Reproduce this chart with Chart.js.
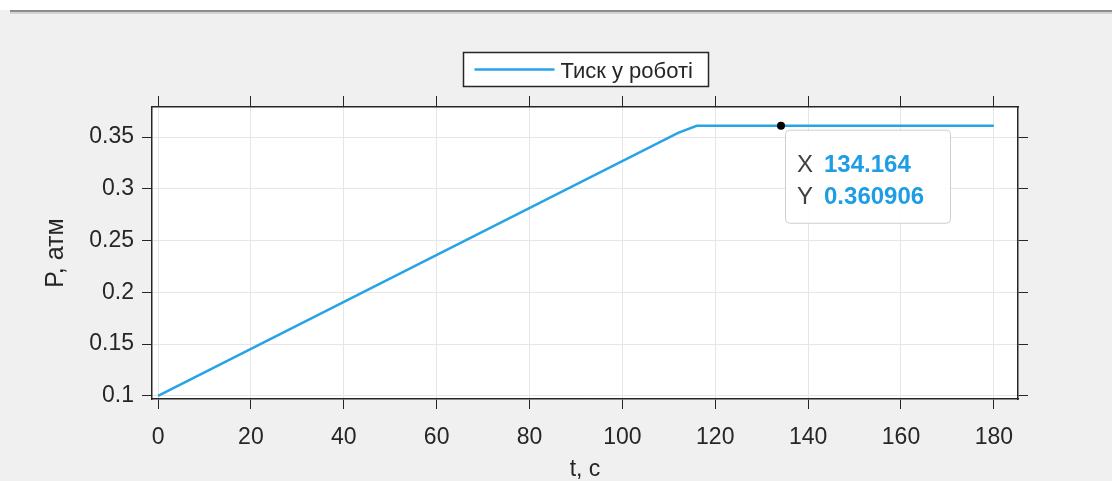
<!DOCTYPE html>
<html>
<head>
<meta charset="utf-8">
<script src="https://cdn.jsdelivr.net/npm/chart.js@4"></script>
<style>
  body { margin: 0; background: #f0f0f0; }
  #wrap { width: 1112px; height: 481px; position: relative; }
</style>
</head>
<body>
<div id="wrap"><canvas id="myChart"></canvas></div>
<script>
// pressure curve (time in s, pressure in atm)
const tValues = [0, 112, 116, 134.164, 180];
const pValues = [0.1, 0.354, 0.3609, 0.360906, 0.3609];

const xTicks = [0, 20, 40, 60, 80, 100, 120, 140, 160, 180];
const yTicks = [0.1, 0.15, 0.2, 0.25, 0.3, 0.35];

const seriesLabel = 'Тиск у роботі';
const xTitle = 't, c';
const yTitle = 'P, атм';

// data tip
const tipX = 134.164;
const tipY = 0.360906;

const LINE_COLOR = '#27a3e6';
const AXIS_COLOR = '#262626';
const GRID_COLOR = '#e6e6e6';
const FONT = "'Liberation Sans', Arial, sans-serif";

const points = tValues.map((t, i) => ({ x: t, y: pValues[i] }));

function setTicks(list) {
  return function(scale) {
    scale.ticks = list.map(v => ({ value: v }));
  };
}

// grey figure background, white axes area, top shadow line
const backdrop = {
  id: 'backdrop',
  beforeDraw(chart) {
    const ctx = chart.ctx;
    const a = chart.chartArea;
    ctx.save();
    ctx.fillStyle = '#f0f0f0';
    ctx.fillRect(0, 0, chart.width, chart.height);
    ctx.fillStyle = '#ffffff';
    ctx.fillRect(0, 0, chart.width, 10);
    ctx.fillStyle = '#8c8c8c';
    ctx.fillRect(10, 10, chart.width - 10, 2);
    ctx.fillStyle = '#d4d4d4';
    ctx.fillRect(10, 12, chart.width - 10, 2);
    ctx.fillStyle = '#ffffff';
    ctx.fillRect(a.left, a.top, a.right - a.left, a.bottom - a.top);
    ctx.restore();
  }
};

// boxed legend above the axes
const boxLegend = {
  id: 'boxLegend',
  afterDraw(chart) {
    const ctx = chart.ctx;
    const a = chart.chartArea;
    const cx = (a.left + a.right) / 2;
    const w = 245, h = 34;
    const x0 = Math.round(cx - w / 2) + 0.5, y0 = a.top - 55 + 0.5;
    ctx.save();
    ctx.fillStyle = '#ffffff';
    ctx.fillRect(x0, y0, w, h);
    ctx.strokeStyle = AXIS_COLOR;
    ctx.lineWidth = 1.5;
    ctx.strokeRect(x0, y0, w, h);
    ctx.strokeStyle = LINE_COLOR;
    ctx.lineWidth = 2.5;
    ctx.beginPath();
    ctx.moveTo(x0 + 11, y0 + 17);
    ctx.lineTo(x0 + 91, y0 + 17);
    ctx.stroke();
    ctx.fillStyle = AXIS_COLOR;
    ctx.font = '22px ' + FONT;
    ctx.textBaseline = 'alphabetic';
    ctx.fillText(seriesLabel, x0 + 97, y0 + 25);
    ctx.restore();
  }
};

// data tip marker and label
const dataTip = {
  id: 'dataTip',
  afterDatasetsDraw(chart) {
    const ctx = chart.ctx;
    const px = chart.scales.x.getPixelForValue(tipX);
    const py = chart.scales.y.getPixelForValue(tipY);
    ctx.save();
    const bx = px + 4, by = py + 4, bw = 165, bh = 93;
    ctx.fillStyle = 'rgba(255,255,255,0.92)';
    ctx.strokeStyle = '#cfcfcf';
    ctx.lineWidth = 1;
    ctx.beginPath();
    ctx.roundRect(bx + 0.5, by + 0.5, bw, bh, 4);
    ctx.fill();
    ctx.stroke();
    ctx.fillStyle = '#000000';
    ctx.beginPath();
    ctx.arc(px, py, 4, 0, Math.PI * 2);
    ctx.fill();
    ctx.textBaseline = 'alphabetic';
    ctx.font = '24px ' + FONT;
    ctx.fillStyle = '#404040';
    ctx.fillText('X', bx + 12, by + 42);
    ctx.fillText('Y', bx + 12, by + 74);
    ctx.font = 'bold 24px ' + FONT;
    ctx.fillStyle = '#1f9de4';
    ctx.fillText(String(tipX), bx + 39, by + 42);
    ctx.fillText(String(tipY), bx + 39, by + 74);
    ctx.restore();
  }
};

const tickFont = { family: FONT, size: 23 };

const config = {
  type: 'line',
  data: {
    datasets: [{
      label: seriesLabel,
      data: points,
      borderColor: LINE_COLOR,
      borderWidth: 2.5,
      pointRadius: 0,
      tension: 0,
      fill: false
    }]
  },
  options: {
    responsive: true,
    maintainAspectRatio: false,
    animation: false,
    layout: { padding: { left: 42, right: 0, top: 0, bottom: 0 } },
    plugins: {
      legend: { display: false },
      tooltip: { enabled: false }
    },
    scales: {
      x: {
        type: 'linear',
        position: 'bottom',
        min: -1.3,
        max: 185.2,
        afterBuildTicks: setTicks(xTicks),
        afterFit(scale) { scale.height = 82; },
        grid: { color: GRID_COLOR, tickColor: AXIS_COLOR, tickLength: 10, lineWidth: 1 },
        border: { color: AXIS_COLOR, width: 1.5 },
        ticks: { font: tickFont, color: AXIS_COLOR, padding: 15, maxRotation: 0 },
        title: { display: true, text: xTitle, color: AXIS_COLOR,
                 font: { family: FONT, size: 23, lineHeight: 1 }, padding: 0 }
      },
      x2: {
        type: 'linear',
        position: 'top',
        min: -1.3,
        max: 185.2,
        afterBuildTicks: setTicks(xTicks),
        afterFit(scale) { scale.height = 107; },
        grid: { drawOnChartArea: false, tickColor: AXIS_COLOR, tickLength: 11 },
        border: { color: AXIS_COLOR, width: 1.5 },
        ticks: { display: false }
      },
      y: {
        type: 'linear',
        position: 'left',
        min: 0.097,
        max: 0.379,
        afterBuildTicks: setTicks(yTicks),
        afterFit(scale) { scale.width = 110; },
        grid: { color: GRID_COLOR, tickColor: AXIS_COLOR, tickLength: 10, lineWidth: 1 },
        border: { color: AXIS_COLOR, width: 1.5 },
        ticks: { font: tickFont, color: AXIS_COLOR, padding: 8,
                 callback: v => String(+v.toFixed(2)) },
        title: { display: true, text: yTitle, color: AXIS_COLOR,
                 font: { family: FONT, size: 25, lineHeight: 1 }, padding: { top: 2, bottom: 0 } }
      },
      y2: {
        type: 'linear',
        position: 'right',
        min: 0.097,
        max: 0.379,
        afterBuildTicks: setTicks(yTicks),
        afterFit(scale) { scale.width = 94; },
        grid: { drawOnChartArea: false, tickColor: AXIS_COLOR, tickLength: 10 },
        border: { color: AXIS_COLOR, width: 1.5 },
        ticks: { display: false }
      }
    }
  },
  plugins: [backdrop, dataTip, boxLegend]
};

const myChart = new Chart(document.getElementById('myChart'), config);
</script>
</body>
</html>
